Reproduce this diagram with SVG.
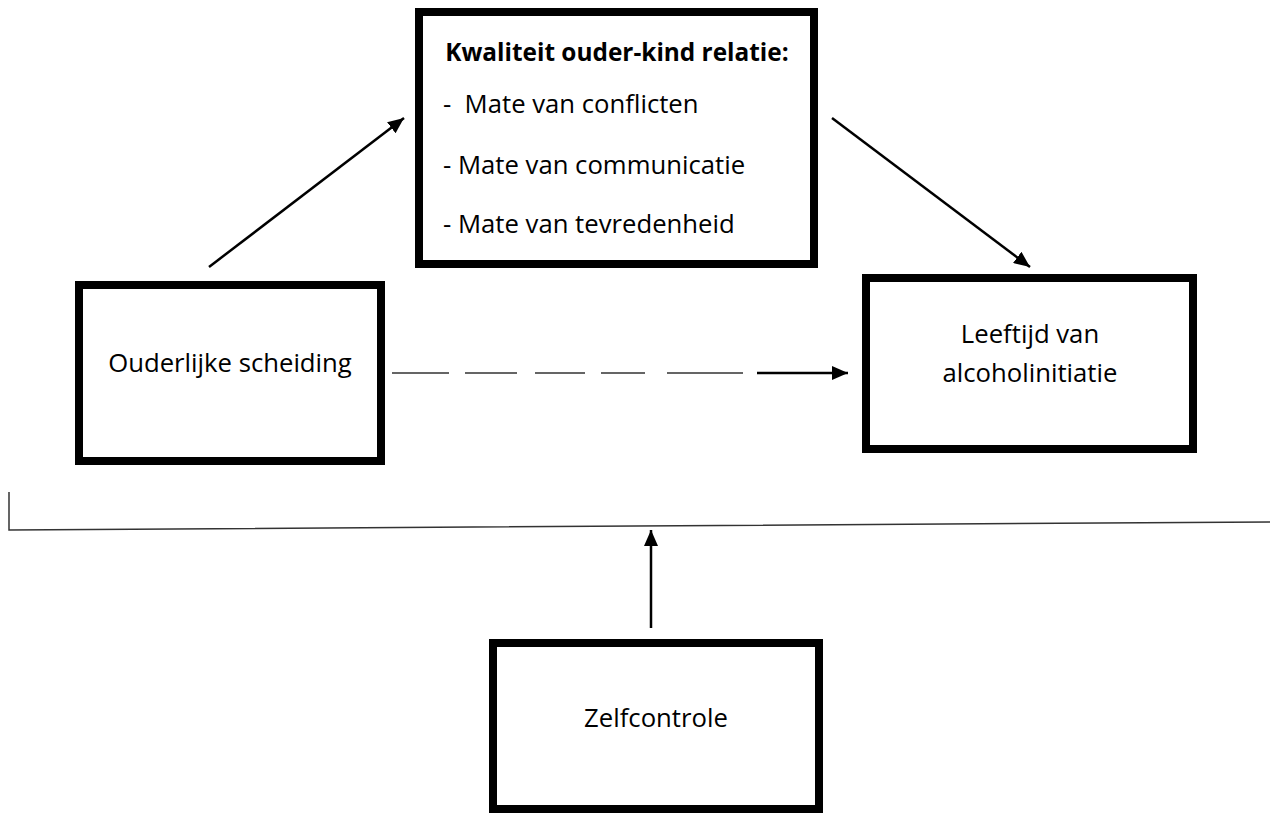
<svg xmlns="http://www.w3.org/2000/svg" width="1270" height="814" viewBox="0 0 1270 814">
  <style>
    .box { fill: #ffffff; stroke: #000000; stroke-width: 8; }
    .txt { font-family: "Open Sans", "Liberation Sans", sans-serif; font-size: 25.7px; fill: #000000; }
    .bold { font-weight: bold; font-size: 24.4px; }
    .arrow { stroke: #000000; stroke-width: 2.5; fill: none; }
    .thin { stroke: #333333; stroke-width: 1.5; fill: none; }
  </style>
  <defs>
    <marker id="ah" markerUnits="userSpaceOnUse" markerWidth="16" markerHeight="14" refX="16" refY="7" orient="auto">
      <path d="M0,0 L16,7 L0,14 Z" fill="#000000"/>
    </marker>
  </defs>
  <rect width="1270" height="814" fill="#ffffff"/>

  <g id="node-kwaliteit">
    <rect class="box" x="419" y="12" width="395" height="252"/>
    <text class="txt bold" x="617" y="61" text-anchor="middle">Kwaliteit ouder-kind relatie:</text>
    <text class="txt" x="443" y="113" xml:space="preserve">-  Mate van conflicten</text>
    <text class="txt" x="443" y="174">- Mate van communicatie</text>
    <text class="txt" x="443" y="233">- Mate van tevredenheid</text>
  </g>

  <g id="node-ouderlijke">
    <rect class="box" x="79" y="285" width="302" height="176"/>
    <text class="txt" x="230" y="372" text-anchor="middle">Ouderlijke scheiding</text>
  </g>

  <g id="node-leeftijd">
    <rect class="box" x="866" y="278" width="327" height="171"/>
    <text class="txt" x="1030" y="343" text-anchor="middle">Leeftijd van</text>
    <text class="txt" x="1030" y="382" text-anchor="middle">alcoholinitiatie</text>
  </g>

  <g id="node-zelfcontrole">
    <rect class="box" x="493" y="643" width="326" height="166"/>
    <text class="txt" x="656" y="727" text-anchor="middle">Zelfcontrole</text>
  </g>

  <g id="connectors">
    <line class="arrow" x1="209" y1="267" x2="404" y2="118" marker-end="url(#ah)"/>
    <line class="arrow" x1="832" y1="118" x2="1030" y2="267" marker-end="url(#ah)"/>
    <path class="thin" d="M392,373 L449,373 M465,373 L517,373 M535,373 L585,373 M601,373 L645,373 M667,373 L743,373"/>
    <line class="arrow" x1="757" y1="373" x2="848" y2="373" marker-end="url(#ah)"/>
    <polyline class="thin" points="9,492 9,530 1270,522"/>
    <line class="arrow" x1="651" y1="628" x2="651" y2="530" marker-end="url(#ah)"/>
  </g>
</svg>
